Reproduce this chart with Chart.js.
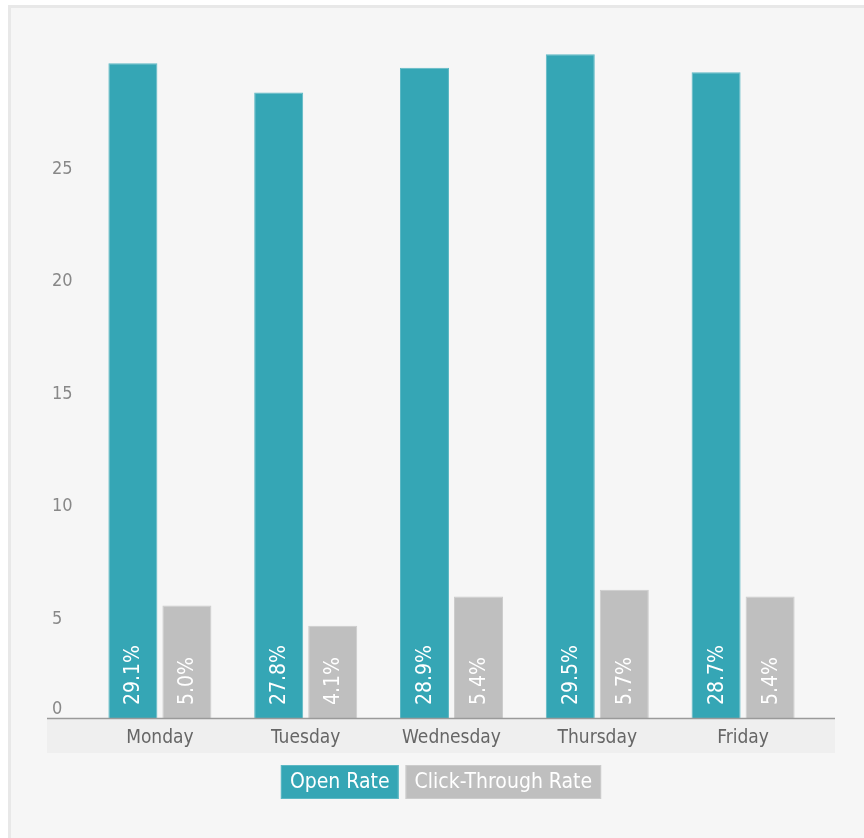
<!DOCTYPE html>
<html>
<head>
<meta charset="utf-8">
<script src="https://cdn.jsdelivr.net/npm/chart.js@4.4.1/dist/chart.umd.min.js"></script>
<style>
  html, body { margin: 0; padding: 0; background: #fff; overflow: hidden; }
  #frame {
    position: absolute; left: 8px; top: 5px; width: 880px; height: 860px;
    border: 3px solid #e8e8e8; background: #f6f6f6; box-sizing: border-box;
  }
  #chart { position: absolute; left: 0; top: 0; }
</style>
</head>
<body>
<div id="frame"></div>
<canvas id="chart" width="864" height="838"></canvas>
<script>
// ===== Data =====
const days = ['Monday', 'Tuesday', 'Wednesday', 'Thursday', 'Friday'];
const openRate = [29.1, 27.8, 28.9, 29.5, 28.7];
const clickRate = [5.0, 4.1, 5.4, 5.7, 5.4];
const yTicks = [0, 5, 10, 15, 20, 25];

const FONT = "'Liberation Sans Narrow', 'DejaVu Sans Condensed', 'Arial Narrow', sans-serif";

// grey band + axis line under the bars
const axisBand = {
  id: 'axisBand',
  beforeDraw(chart) {
    const { ctx, chartArea: a } = chart;
    ctx.save();
    ctx.fillStyle = '#efefef';
    ctx.fillRect(a.left - 40, a.bottom, a.right - a.left + 59, 35);
    ctx.restore();
  },
  afterDatasetsDraw(chart) {
    const { ctx, chartArea: a } = chart;
    ctx.save();
    ctx.strokeStyle = '#9a9a9a';
    ctx.lineWidth = 1.5;
    ctx.beginPath();
    ctx.moveTo(a.left - 40, a.bottom + 0.5);
    ctx.lineTo(a.right + 19, a.bottom + 0.5);
    ctx.stroke();
    ctx.restore();
  }
};

// rotated % labels inside each bar
const barLabels = {
  id: 'barLabels',
  afterDatasetsDraw(chart) {
    const { ctx } = chart;
    ctx.save();
    ctx.fillStyle = '#ffffff';
    ctx.font = '21px ' + FONT;
    ctx.textAlign = 'left';
    ctx.textBaseline = 'middle';
    chart.data.datasets.forEach((ds, i) => {
      chart.getDatasetMeta(i).data.forEach((bar, j) => {
        ctx.save();
        ctx.translate(bar.x, bar.base - 13);
        ctx.rotate(-Math.PI / 2);
        ctx.fillText(ds.data[j].toFixed(1) + '%', 0, 1);
        ctx.restore();
      });
    });
    ctx.restore();
  }
};

// the "0" tick sits above the axis line, unlike the others
const zeroLabel = {
  id: 'zeroLabel',
  afterDraw(chart) {
    const { ctx, scales: { y } } = chart;
    ctx.save();
    ctx.fillStyle = '#888888';
    ctx.font = '18px ' + FONT;
    ctx.textAlign = 'left';
    ctx.textBaseline = 'middle';
    ctx.fillText(String(yTicks[0]), y.left, y.getPixelForValue(yTicks[0]) - 9);
    ctx.restore();
  }
};

// legend: text inside coloured boxes
const boxLegend = {
  id: 'boxLegend',
  afterDraw(chart) {
    const { ctx, chartArea: a } = chart;
    const padX = 9, gap = 7, h = 34, top = a.bottom + 47;
    ctx.save();
    ctx.font = '21px ' + FONT;
    const items = chart.data.datasets.map(ds => ({
      text: ds.label, fill: ds.backgroundColor, stroke: ds.borderColor,
      w: ctx.measureText(ds.label).width + padX * 2
    }));
    const total = items.reduce((s, it) => s + it.w, 0) + gap * (items.length - 1);
    const center = ((a.left - 40) + (a.right + 19)) / 2;
    let x = center - total / 2;
    items.forEach(it => {
      ctx.fillStyle = it.fill;
      ctx.fillRect(x, top, it.w, h);
      ctx.strokeStyle = it.stroke;
      ctx.lineWidth = 1;
      ctx.strokeRect(x + 0.5, top + 0.5, it.w - 1, h - 1);
      ctx.fillStyle = '#ffffff';
      ctx.textAlign = 'center';
      ctx.textBaseline = 'middle';
      ctx.fillText(it.text, x + it.w / 2, top + h / 2 + 1);
      x += it.w + gap;
    });
    ctx.restore();
  }
};

new Chart(document.getElementById('chart'), {
  type: 'bar',
  data: {
    labels: days,
    datasets: [
      {
        label: 'Open Rate',
        data: openRate,
        backgroundColor: '#35a6b5',
        borderColor: '#5cb8c4',
        borderWidth: 1,
        barPercentage: 0.907,
        categoryPercentage: 0.741
      },
      {
        label: 'Click-Through Rate',
        data: clickRate,
        backgroundColor: '#bfbfbf',
        borderColor: '#cccccc',
        borderWidth: 1,
        barPercentage: 0.907,
        categoryPercentage: 0.741
      }
    ]
  },
  options: {
    responsive: false,
    animation: false,
    layout: { padding: { left: 52, right: 48, top: 43, bottom: 0 } },
    plugins: {
      legend: { display: false },
      tooltip: { enabled: false }
    },
    scales: {
      x: {
        grid: { display: false, drawTicks: false },
        border: { display: false },
        ticks: {
          color: '#666666',
          font: { family: FONT, size: 19 },
          padding: 9,
          maxRotation: 0
        },
        afterFit: s => { s.height = 120; }
      },
      y: {
        min: 0,
        max: 30,
        grid: { display: false, drawTicks: false },
        border: { display: false },
        afterBuildTicks: s => { s.ticks = yTicks.map(v => ({ value: v })); },
        afterFit: s => { s.width = 35; },
        ticks: {
          crossAlign: 'far',
          labelOffset: 13.5,
          color: '#888888',
          font: { family: FONT, size: 18 },
          callback: v => (v === 0 ? '' : v)
        }
      }
    }
  },
  plugins: [axisBand, barLabels, zeroLabel, boxLegend]
});
</script>
</body>
</html>
